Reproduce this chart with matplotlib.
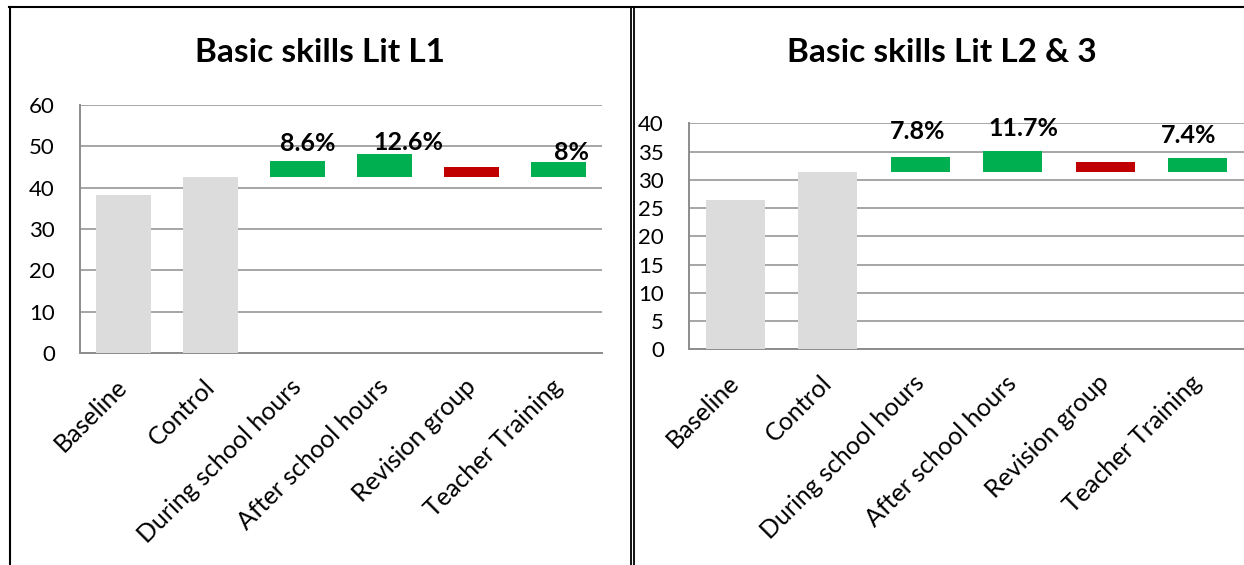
import matplotlib

matplotlib.use("Agg")

import matplotlib.pyplot as plt
import matplotlib.transforms as mtrans
from matplotlib.lines import Line2D

plt.rcParams["font.family"] = ["Lato", "DejaVu Sans"]

categories = ["Baseline", "Control", "During school hours",
              "After school hours", "Revision group", "Teacher Training"]

# Lit L1
l1_base = [38.2, 42.7]            # Baseline, Control (grey)
l1_tops = [46.4, 48.2, 45.1, 46.2]  # tops of the floating bars
l1_labels = ["8.6%", "12.6%", "", "8%"]
l1_colors = ["#00B050", "#00B050", "#C00000", "#00B050"]

# Lit L2 & 3
l23_base = [26.5, 31.4]
l23_tops = [34.0, 35.1, 33.2, 33.85]
l23_labels = ["7.8%", "11.7%", "", "7.4%"]
l23_colors = ["#00B050", "#00B050", "#C00000", "#00B050"]

W, H = 1244, 565
fig = plt.figure(figsize=(W / 100, H / 100), dpi=100)


def px_rect(x0, y_top, x1, y_bot):
    return [x0 / W, 1 - y_bot / H, (x1 - x0) / W, (y_bot - y_top) / H]


def panel(ax, base, tops, labels, colors, ymax, step, label_off, title, title_x):
    x = list(range(len(categories)))
    bw = 0.64
    ax.bar(x[:2], base, width=bw, color="#DCDCDC", zorder=3)
    ctrl = base[1]
    heights = [t - ctrl for t in tops]
    bars = ax.bar(x[2:], heights, bottom=ctrl, width=bw, color=colors, zorder=3)
    for b, lab, (dx, dy) in zip(bars, labels, label_off):
        if not lab:
            continue
        ax.annotate(lab, (b.get_x() + b.get_width() / 2, b.get_y() + b.get_height()),
                    xytext=(dx, dy), textcoords="offset pixels",
                    ha="center", va="bottom", fontsize=18, fontweight="bold",
                    zorder=4)

    ax.set_xlim(-0.5, len(categories) - 0.5)
    ax.set_ylim(0, ymax)
    ax.set_yticks(range(0, ymax + 1, step))
    ax.yaxis.grid(True, color="#A6A6A6", linewidth=1.4, zorder=0)
    ax.set_axisbelow(True)
    for s in ["top", "right"]:
        ax.spines[s].set_visible(False)
    for s in ["left", "bottom"]:
        ax.spines[s].set_color("#8C8C8C")
        ax.spines[s].set_linewidth(1.4)
    ax.tick_params(axis="y", length=0, labelsize=16, pad=18)
    ax.set_xticks(x)
    ax.set_xticklabels(categories, rotation=45, ha="right", rotation_mode="anchor",
                       fontsize=18)
    ax.tick_params(axis="x", length=0, pad=12)
    shift = mtrans.ScaledTranslation(-8 / 100, -5 / 100, fig.dpi_scale_trans)
    for t in ax.get_xticklabels():
        t.set_transform(t.get_transform() + shift)
    fig.text(title_x / W, 1 - 62 / H, title, ha="center", va="baseline",
             fontsize=24, fontweight="bold")


ax1 = fig.add_axes(px_rect(80, 105, 602, 353))
panel(ax1, l1_base, l1_tops, l1_labels, l1_colors, 60, 10,
      [(10, 6), (24, 0), (0, 0), (13, -2)], "Basic skills Lit L1", 320)

ax2 = fig.add_axes(px_rect(689, 123.3, 1244, 349.3))
panel(ax2, l23_base, l23_tops, l23_labels, l23_colors, 40, 5,
      [(-3, 14), (11, 11), (0, 0), (-9, 11)], "Basic skills Lit L2 & 3", 942)

# panel borders
fig.add_artist(Line2D([9 / W, 1], [1 - 6.5 / H] * 2, color="black", linewidth=1.5))
fig.add_artist(Line2D([9.5 / W] * 2, [0, 1 - 6.5 / H], color="black", linewidth=1.5))
for xb in (631, 634):
    fig.add_artist(Line2D([xb / W] * 2, [0, 1 - 6.5 / H], color="black", linewidth=1.3))

fig.savefig("out.png", dpi=100)
